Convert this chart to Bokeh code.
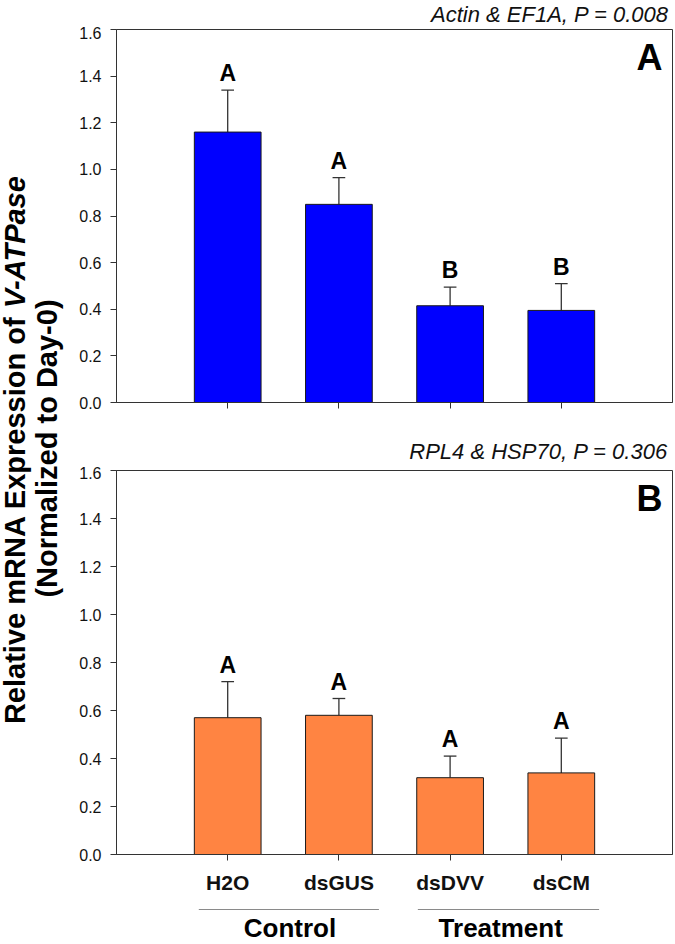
from bokeh.plotting import figure
from bokeh.layouts import column, row
from bokeh.models import Range1d, FixedTicker, PrintfTickFormatter, Label
from bokeh.core.properties import value
from bokeh.embed import file_html
from bokeh.resources import INLINE

# ---------------- data ----------------
treatments = ["H2O", "dsGUS", "dsDVV", "dsCM"]
groups = ["Control", "Treatment"]
y_ticks = [0.0, 0.2, 0.4, 0.6, 0.8, 1.0, 1.2, 1.4, 1.6]

a_mean = [1.16, 0.85, 0.415, 0.395]
a_err = [0.18, 0.115, 0.08, 0.115]
a_letters = ["A", "A", "B", "B"]
a_title = "Actin & EF1A, P = 0.008"
a_tag = "A"

b_mean = [0.57, 0.58, 0.32, 0.34]
b_err = [0.15, 0.07, 0.09, 0.145]
b_letters = ["A", "A", "A", "A"]
b_title = "RPL4 & HSP70, P = 0.306"
b_tag = "B"

ylab_main = "Relative mRNA Expression of "
ylab_ital = "V-ATPase"
ylab_sub = "(Normalized to Day-0)"

# ---------------- style / layout ----------------
FONT = "Liberation Sans"
AX = "#333333"
ASC = 0.905          # ascent of the font, in em (text_baseline="top" anchors here)
xpos = list(range(1, len(treatments) + 1))
group_spans = [(0.74, 2.36), (2.71, 4.34)]
group_centers = [1.56, 3.455]
RIGHT_W = 611


def strip(height, text, x, top_y, size):
    """A thin text-only figure holding a right-aligned italic subtitle."""
    s = figure(width=RIGHT_W, height=height, x_range=Range1d(0, RIGHT_W),
               y_range=Range1d(0, height), output_backend="svg",
               toolbar_location=None, tools="", x_axis_location=None,
               y_axis_location=None, min_border=0)
    s.outline_line_color = None
    s.xgrid.visible = False
    s.ygrid.visible = False
    s.text(x=[x], y=[height - top_y], text=[text], text_font=value(FONT),
           text_font_style="italic", text_font_size=f"{size}px",
           text_align="right", text_baseline="top", text_color="#111111")
    return s


def panel(means, errs, letters, tag, color, height, b_top, b_bottom,
          b_left, show_labels, px_unit):
    p = figure(width=RIGHT_W, height=height, x_range=Range1d(0, 5),
               y_range=Range1d(0, 1.6), output_backend="svg",
               toolbar_location=None, tools="",
               min_border_left=b_left, min_border_right=3,
               min_border_top=b_top, min_border_bottom=b_bottom)
    p.background_fill_color = "white"
    p.border_fill_color = "white"
    p.outline_line_color = AX
    p.outline_line_width = 1
    p.xgrid.visible = False
    p.ygrid.visible = False

    caps = [m + e for m, e in zip(means, errs)]
    p.segment(x0=xpos, y0=means, x1=xpos, y1=caps, line_color=AX, line_width=1.3)
    p.segment(x0=[x - 0.057 for x in xpos], y0=caps,
              x1=[x + 0.057 for x in xpos], y1=caps, line_color=AX, line_width=1.3)
    p.vbar(x=xpos, top=means, width=0.6, bottom=0, fill_color=color,
           line_color="#1a1a1a", line_width=1)
    p.text(x=xpos, y=[c + (9.0 + ASC * 23) / px_unit for c in caps], text=letters,
           text_font=value(FONT), text_font_style="bold", text_font_size="23px",
           text_align="center", text_baseline="top", text_color="black")

    ya = p.yaxis[0]
    ya.ticker = FixedTicker(ticks=y_ticks)
    ya.formatter = PrintfTickFormatter(format="%.1f")
    ya.major_tick_out = 6
    ya.major_tick_in = 0
    ya.minor_tick_out = 0
    ya.minor_tick_in = 0
    ya.axis_line_color = AX
    ya.major_tick_line_color = AX
    ya.major_label_standoff = 9
    ya.major_label_text_font = FONT
    ya.major_label_text_font_size = "16px"
    ya.major_label_text_color = "#111111"

    xa = p.xaxis[0]
    xa.ticker = FixedTicker(ticks=xpos)
    xa.major_tick_out = 6
    xa.major_tick_in = 0
    xa.minor_tick_out = 0
    xa.minor_tick_in = 0
    xa.axis_line_color = AX
    xa.major_tick_line_color = AX
    xa.major_label_text_font = FONT
    xa.major_label_text_font_style = "bold"
    xa.major_label_text_color = "#111111"
    xa.major_label_text_font_size = "21px"
    if show_labels:
        xa.major_label_overrides = {x: t for x, t in zip(xpos, treatments)}
        xa.major_label_standoff = 10
    else:
        xa.major_label_overrides = {x: "" for x in xpos}
        xa.major_label_standoff = 0

    p.add_layout(Label(x=5 - 10.0 / 111.0, y=1.6 - 7.2 / px_unit, text=tag,
                       text_align="right", text_baseline="top",
                       text_font=FONT, text_font_style="bold",
                       text_font_size="36px", text_color="black"))
    return p


sub_a = strip(26, a_title, 671 - 64, 21 - ASC * 22, 22)
top = panel(a_mean, a_err, a_letters, a_tag, "#0000FF", 394, 3, 18, 52,
            False, 373 / 1.6)
sub_b = strip(46, b_title, 670 - 64, 458 - 420 - ASC * 22, 22)
bottom = panel(b_mean, b_err, b_letters, b_tag, "#FF8442", 432, 4, 44, 49,
               True, 384 / 1.6)

# group labels under the x axis
GH = 46
g = figure(width=RIGHT_W, height=GH, x_range=bottom.x_range, y_range=Range1d(0, GH),
           output_backend="svg", toolbar_location=None, tools="",
           x_axis_location=None, y_axis_location=None,
           min_border_left=49, min_border_right=3, min_border_top=0, min_border_bottom=0)
g.outline_line_color = None
g.xgrid.visible = False
g.ygrid.visible = False
g.segment(x0=[s[0] for s in group_spans], y0=[GH - 11] * 2,
          x1=[s[1] for s in group_spans], y1=[GH - 11] * 2,
          line_color="#8a8a8a", line_width=1)
g.text(x=group_centers, y=[GH - (936 - 898 - ASC * 26)] * 2, text=groups,
       text_font=value(FONT), text_font_style="bold", text_font_size="26px",
       text_align="center", text_baseline="top", text_color="black")

# shared y axis title (two lines, rotated)
FS = 29
LW = 64
H = 944
w_main = 14.337 * FS   # Arial-bold advance of ylab_main
w_all = 19.005 * FS
yc = H - 448
lab = figure(width=LW, height=H, x_range=Range1d(0, LW), y_range=Range1d(0, H),
             output_backend="svg", toolbar_location=None, tools="",
             x_axis_location=None, y_axis_location=None, min_border=0)
lab.outline_line_color = None
lab.xgrid.visible = False
lab.ygrid.visible = False
y0 = yc - w_all / 2
x1 = 25 - ASC * FS
x2 = 57 - ASC * FS
rot = 1.5707963267948966
lab.text(x=[x1], y=[y0], text=[ylab_main], angle=rot,
         text_font=value(FONT), text_font_style="bold", text_font_size=f"{FS}px",
         text_align="left", text_baseline="top", text_color="black")
lab.text(x=[x1], y=[y0 + w_main], text=[ylab_ital], angle=rot,
         text_font=value(FONT), text_font_style="bold italic", text_font_size=f"{FS}px",
         text_align="left", text_baseline="top", text_color="black")
lab.text(x=[x2], y=[yc], text=[ylab_sub], angle=rot,
         text_font=value(FONT), text_font_style="bold", text_font_size=f"{FS}px",
         text_align="center", text_baseline="top", text_color="black")

layout = row(lab, column(sub_a, top, sub_b, bottom, g))
open("out.html", "w").write(file_html(layout, INLINE))
